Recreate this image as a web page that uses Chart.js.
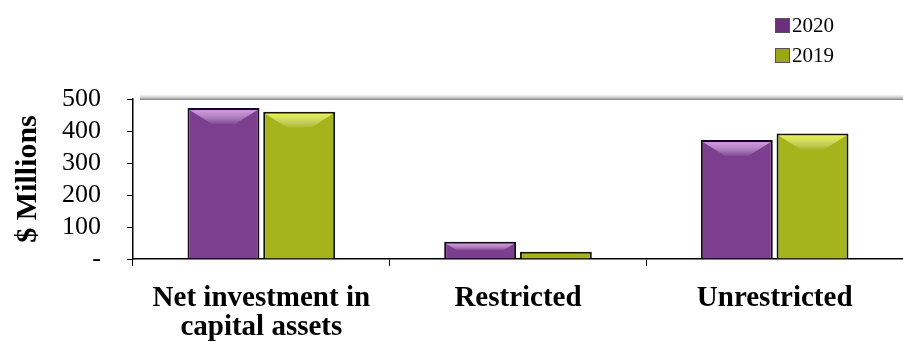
<!DOCTYPE html>
<html>
<head>
<meta charset="utf-8">
<script src="https://cdn.jsdelivr.net/npm/chart.js@4"></script>
<style>
  body { margin: 0; background: #fff; }
  #wrap { position: relative; width: 903px; height: 342px; }
  #legend { position: absolute; left: 775px; top: 13px; font-family: "Liberation Serif", serif; font-size: 21px; color: #000; }
  #legend div { height: 30px; line-height: 24px; }
  #legend span { display: inline-block; width: 13px; height: 13px; margin-right: 2px; vertical-align: -1px; border: 1px solid #555; }
</style>
</head>
<body>
<div id="wrap">
  <canvas id="myChart" width="903" height="342"></canvas>
  <div id="legend"></div>
</div>
<script>
var categories = [["Net investment in", "capital assets"], "Restricted", "Unrestricted"];
var series_2020 = [472, 54, 372];
var series_2019 = [460, 23, 392];
var series_names = ["2020", "2019"];
var y_ticks = [0, 100, 200, 300, 400, 500];

var serif = "'Liberation Serif', 'Times New Roman', serif";

function barFill(dark, mid, light) {
    return function(context) {
        var chart = context.chart;
        var el = context.element;
        if (!chart.chartArea || !el || el.x === undefined) return mid;
        var w = el.width || 70;
        var g = chart.ctx.createLinearGradient(el.x - w / 2, 0, el.x + w / 2, 0);
        g.addColorStop(0, dark);
        g.addColorStop(0.13, mid);
        g.addColorStop(0.5, light);
        g.addColorStop(0.87, mid);
        g.addColorStop(1, dark);
        return g;
    };
}

var bevelColors = ['rgba(225,160,240,0.85)', 'rgba(240,250,80,0.85)'];

// lighter bevel on top of each bar
var bevel = {
    id: 'bevel',
    afterDatasetsDraw: function(chart) {
        var ctx = chart.ctx;
        chart.data.datasets.forEach(function(ds, di) {
            chart.getDatasetMeta(di).data.forEach(function(bar) {
                var l = bar.x - bar.width / 2 + 2, r = bar.x + bar.width / 2 - 2;
                var t = bar.y + 2, h = bar.base - bar.y - 4;
                if (h < 8) return;
                var b = Math.min(14, h / 2);
                var g = ctx.createLinearGradient(0, t, 0, t + b);
                g.addColorStop(0, bevelColors[di]);
                g.addColorStop(1, 'rgba(255,255,255,0.05)');
                ctx.save();
                ctx.fillStyle = g;
                ctx.beginPath();
                ctx.moveTo(l, t);
                ctx.lineTo(r, t);
                ctx.lineTo(r - b * 1.6, t + b);
                ctx.lineTo(l + b * 1.6, t + b);
                ctx.closePath();
                ctx.fill();
                ctx.restore();
            });
        });
    }
};

// grey shaded line along the top of the plot
var topLine = {
    id: 'topLine',
    afterDraw: function(chart) {
        var a = chart.chartArea;
        var ctx = chart.ctx;
        var g = ctx.createLinearGradient(0, a.top - 5, 0, a.top + 1);
        g.addColorStop(0, 'rgba(210,210,210,0)');
        g.addColorStop(1, 'rgba(125,125,125,1)');
        ctx.save();
        ctx.fillStyle = g;
        ctx.fillRect(a.left + 7, a.top - 5, a.right - a.left - 7, 6);
        ctx.restore();
    }
};

var ctx = document.getElementById("myChart").getContext('2d');
var myChart = new Chart(ctx, {
    type: 'bar',
    data: {
        labels: categories,
        datasets: [{
            label: series_names[0],
            data: series_2020,
            backgroundColor: barFill('#3e1a4a', '#7c3e8f', '#9252a6'),
            borderColor: '#140a16',
            borderWidth: 2,
            barPercentage: 0.95,
            categoryPercentage: 0.59
        }, {
            label: series_names[1],
            data: series_2019,
            backgroundColor: barFill('#4e5506', '#a6b41b', '#bcc92a'),
            borderColor: '#141506',
            borderWidth: 2,
            barPercentage: 0.95,
            categoryPercentage: 0.59
        }]
    },
    options: {
        responsive: false,
        animation: false,
        layout: { padding: { top: 99, right: 0, left: 0, bottom: 0 } },
        plugins: {
            legend: { display: false },
            tooltip: { enabled: false }
        },
        scales: {
            x: {
                afterFit: function(axis) { axis.height = 83; },
                grid: { display: true, drawOnChartArea: false, offset: true, tickLength: 7, color: '#000', lineWidth: 1 },
                border: { display: true, color: '#000', width: 1.5 },
                ticks: {
                    color: '#000',
                    font: { family: serif, size: 29, weight: 'bold', lineHeight: 1.0 },
                    maxRotation: 0,
                    autoSkip: false,
                    padding: 18
                }
            },
            y: {
                min: 0,
                max: 500,
                afterBuildTicks: function(axis) {
                    axis.ticks = y_ticks.map(function(v) { return { value: v }; });
                },
                afterFit: function(axis) { axis.width = 133; },
                grid: { display: true, drawOnChartArea: false, tickLength: 6, color: '#000', lineWidth: 1 },
                border: { display: true, color: '#000', width: 1.5 },
                ticks: {
                    color: '#000',
                    font: { family: serif, size: 26 },
                    padding: 26,
                    autoSkip: false,
                    callback: function(v) { return v === 0 ? '-' : v; }
                },
                title: {
                    display: true,
                    text: '$ Millions',
                    color: '#000',
                    font: { family: serif, size: 30, weight: 'bold' },
                    padding: { top: 10, bottom: 0 }
                }
            }
        }
    },
    plugins: [bevel, topLine]
});

var legendColors = ['#6a307c', '#9aa614'];
var legendHtml = '';
for (var i = 0; i < series_names.length; i++) {
    legendHtml += '<div><span style="background:' + legendColors[i] + '"></span>' + series_names[i] + '</div>';
}
document.getElementById('legend').innerHTML = legendHtml;
</script>
</body>
</html>
